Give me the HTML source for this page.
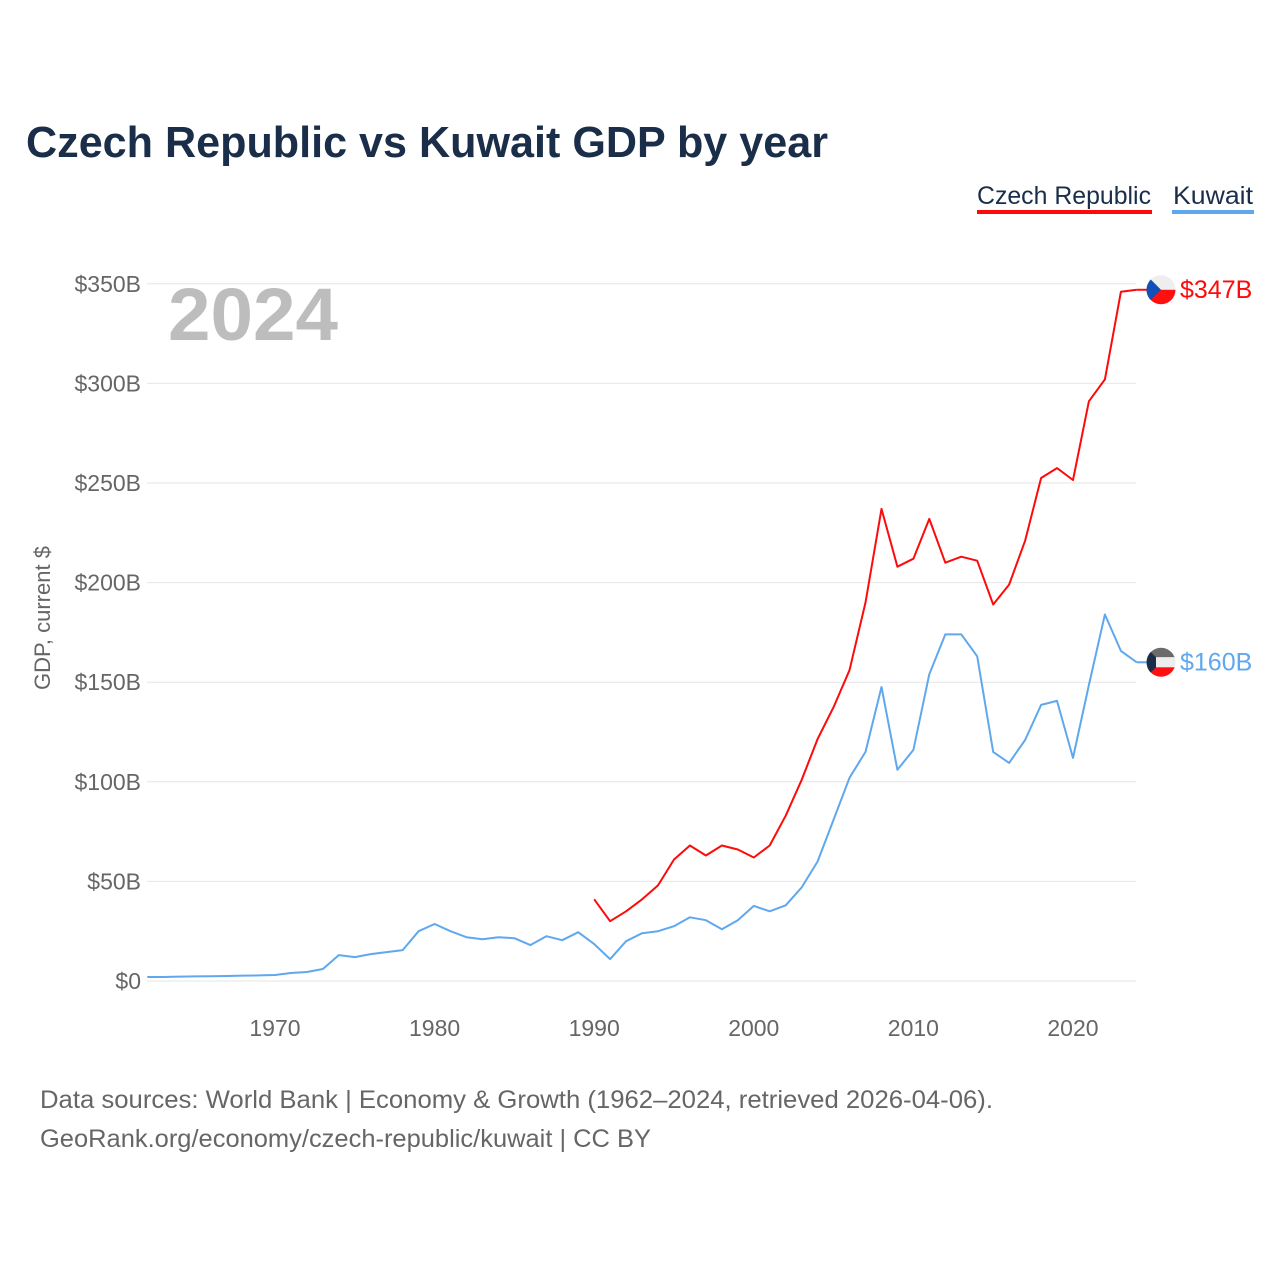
<!DOCTYPE html>
<html><head><meta charset="utf-8">
<style>
body{margin:0;background:#fff;font-family:"Liberation Sans",sans-serif;}
#wrap{position:relative;width:1280px;height:1280px;overflow:hidden;}
</style></head>
<body><div id="wrap">
<svg id="chart" width="1280" height="1280">
<text x="26" y="157" font-size="44" font-weight="bold" fill="#1a2e4a" textLength="802" lengthAdjust="spacingAndGlyphs">Czech Republic vs Kuwait GDP by year</text>
<g><text x="977" y="204" font-size="25" fill="#1a2e4a" textLength="174" lengthAdjust="spacingAndGlyphs">Czech Republic</text><rect x="977" y="210" width="175" height="4" fill="#ff0a0a"/></g>
<g><text x="1173" y="204" font-size="25" fill="#1a2e4a" textLength="80" lengthAdjust="spacingAndGlyphs">Kuwait</text><rect x="1172" y="210" width="82" height="4" fill="#5fa8ee"/></g>
<text x="168" y="340" font-size="74" font-weight="bold" fill="#bdbdbd" textLength="170" lengthAdjust="spacingAndGlyphs">2024</text>
<text transform="translate(50,618) rotate(-90)" text-anchor="middle" font-size="22" fill="#666">GDP, current $</text>
<text x="40" y="1108" font-size="25" fill="#666" textLength="953" lengthAdjust="spacingAndGlyphs">Data sources: World Bank | Economy &amp; Growth (1962–2024, retrieved 2026-04-06).</text>
<text x="40" y="1147" font-size="25" fill="#666" textLength="611" lengthAdjust="spacingAndGlyphs">GeoRank.org/economy/czech-republic/kuwait | CC BY</text>
<g id="grid"></g><g id="lines"></g>
</svg></div>
<script>
const yTicks=[0,50,100,150,200,250,300,350];
const yTickLabels=["$0","$50B","$100B","$150B","$200B","$250B","$300B","$350B"];
const xTicks=[1970,1980,1990,2000,2010,2020];
const kuwaitYears=[];for(let y=1962;y<=2024;y++)kuwaitYears.push(y);
const kuwaitValues=[2,2,2.2,2.3,2.4,2.5,2.7,2.8,3,4,4.5,6,13,12,13.5,14.5,15.5,25,28.6,25,22,21,22,21.5,18,22.5,20.5,24.5,18.5,11,20,24,25,27.5,32,30.5,26,30.5,37.7,35,38,47,60,81,102,115,147.6,106,116,154,174,174,163,115,109.5,121,138.6,140.6,112,148.6,184,165.7,160];
const czechYears=[];for(let y=1990;y<=2024;y++)czechYears.push(y);
const czechValues=[41,30,35,41,48,61,68,63,68,66,62,68,83,101,121.5,137.5,156,190,237,208,212,232,210,213,211,189,199,221,252.5,257.5,251.5,291,302,346,347];
const NS="http://www.w3.org/2000/svg";
const X0=147.3,XS=15.96,Y0=981,YS=99.6/50;
const sx=y=>X0+(y-1962)*XS, sy=v=>Y0-v*YS;
function el(t,a,p){const e=document.createElementNS(NS,t);for(const k in a)e.setAttribute(k,a[k]);p.appendChild(e);return e;}
const grid=document.getElementById('grid'),lines=document.getElementById('lines');
yTicks.forEach((v,i)=>{
 const l=el('line',{x1:147,x2:1136,y1:sy(v),y2:sy(v),stroke:'#e6e6e6','stroke-width':1},grid);
 
 
 const t=el('text',{x:141,y:sy(v)+8,'text-anchor':'end','font-size':23,fill:'#666'},grid);
 t.textContent=yTickLabels[i];
 
 
});
xTicks.forEach(y=>{
 const t=el('text',{x:sx(y),y:1036,'text-anchor':'middle','font-size':23,fill:'#666'},grid);
 t.textContent=y;
 
 
});
function series(years,vals,color,name){
 const d=years.map((y,i)=>(i?'L':'M')+sx(y).toFixed(1)+','+sy(vals[i]).toFixed(1)).join('');
 const p=el('path',{d:d,fill:'none',stroke:color,'stroke-width':2,'stroke-linejoin':'round'},lines);
 
 
 const lx=sx(years[years.length-1]),ly=sy(vals[vals.length-1]);
 el('line',{x1:lx,x2:1148,y1:ly,y2:ly,stroke:color,'stroke-width':2},lines);
 const t=el('text',{x:1180,y:ly+8,'font-size':25,fill:color},lines);
 t.textContent='$'+Math.round(vals[vals.length-1])+'B';
 
 
 return ly;
}
const cy=series(czechYears,czechValues,'#ff0a0a','czech');
const ky=series(kuwaitYears,kuwaitValues,'#5fa8ee','kuwait');
function flag(cyy,parts,name){
 const g=el('g',{},lines);
 
 
 const id='c'+name;
 const cp=el('clipPath',{id:id},g);el('circle',{cx:1161,cy:cyy,r:14.5},cp);
 const gg=el('g',{'clip-path':'url(#'+id+')'},g);
 parts(gg,cyy);
}
flag(cy,(g,c)=>{el('rect',{x:1146,y:c-15,width:30,height:15,fill:'#eeeeee'},g);el('rect',{x:1146,y:c,width:30,height:15,fill:'#ff1010'},g);el('polygon',{points:`1146,${c-15} 1161,${c} 1146,${c+15}`,fill:'#1050b8'},g);},'czech-flag');
flag(ky,(g,c)=>{el('rect',{x:1146,y:c-15,width:30,height:10,fill:'#6b6b6b'},g);el('rect',{x:1146,y:c-5,width:30,height:10,fill:'#eeeeee'},g);el('rect',{x:1146,y:c+5,width:30,height:10,fill:'#ff1010'},g);el('polygon',{points:`1146,${c-15} 1156,${c-5} 1156,${c+5} 1146,${c+15}`,fill:'#1a2e4a'},g);},'kuwait-flag');
</script>
</body></html>
